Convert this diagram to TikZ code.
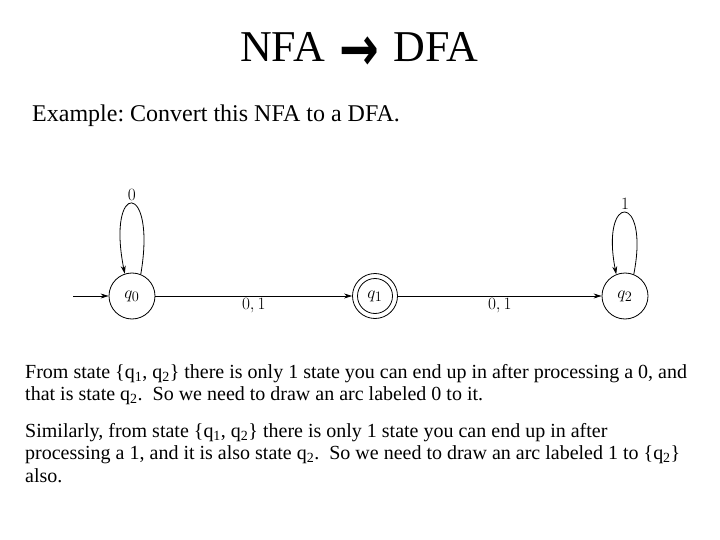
\documentclass[tikz,border=0pt]{standalone}
\usepackage[no-math]{fontspec}
\setmainfont{Liberation Serif}
\newfontfamily\arrowfont{DejaVu Sans}
\frenchspacing
\usetikzlibrary{arrows.meta}
\tikzset{
  state/.style={circle, draw, line width=0.8pt, minimum size=46pt, inner sep=0pt, font=\fontsize{19}{21}\selectfont},
  innerring/.style={circle, draw, line width=0.8pt, minimum size=35pt, inner sep=0pt},
  edge/.style={line width=0.8pt, -{Stealth[length=8pt,width=5pt]}},
  lbl/.style={font=\fontsize{16}{18}\selectfont, inner sep=1pt},
  body/.style={anchor=base west, inner sep=0pt, font=\fontsize{20}{24}\selectfont},
}
\begin{document}
\begin{tikzpicture}[x=1pt,y=-1pt]
\useasboundingbox (0,0) rectangle (720,540);
% title and intro
\node[anchor=base west, inner sep=0pt, font=\fontsize{44}{52}\selectfont] (title) at (240,62) {NFA\hspace{15pt}\raisebox{-9pt}{\scalebox{0.95}[1.25]{\arrowfont\bfseries\fontsize{50}{52}\selectfont →}}\hspace{14pt}DFA};
\node[anchor=base west, inner sep=0pt, font=\fontsize{24}{28}\selectfont] (intro) at (32,122) {Example: Convert this NFA to a DFA.};
% automaton
\node[state] (q0) at (132,296) {$q_0$};
\node[state, minimum size=45pt] (q1) at (375,296) {$q_1$};
\node[innerring] (q1in) at (q1) {};
\node[state] (q2) at (625,296) {$q_2$};
\coordinate (start) at (73,296);
\draw[edge] (start) -- (q0);
\draw[edge] (q0) -- node[lbl, below=1pt] {$0,1$} (q1);
\draw[edge] (q1) -- node[lbl, below=1pt] {$0,1$} (q2);
\draw[edge] (q0.68) .. controls (157,180) and (106,180) .. node[lbl, above=2pt] {$0$} (q0.108);
\draw[edge] (q2.68) .. controls (650,192) and (600,192) .. node[lbl, above=2pt] {$1$} (q2.112);
% explanation
\node[body] (t1) at (25,378) {From state \{q\textsubscript{1}, q\textsubscript{2}\} there is only 1 state you can end up in after processing a 0, and};
\node[body] (t2) at (25,400) {that is state q\textsubscript{2}. \ So we need to draw an arc labeled 0 to it.};
\node[body] (t3) at (25,437) {Similarly, from state \{q\textsubscript{1}, q\textsubscript{2}\} there is only 1 state you can end up in after};
\node[body] (t4) at (25,459) {processing a 1, and it is also state q\textsubscript{2}. \ So we need to draw an arc labeled 1 to \{q\textsubscript{2}\}};
\node[body] (t5) at (25,482) {also.};
\end{tikzpicture}
\end{document}
